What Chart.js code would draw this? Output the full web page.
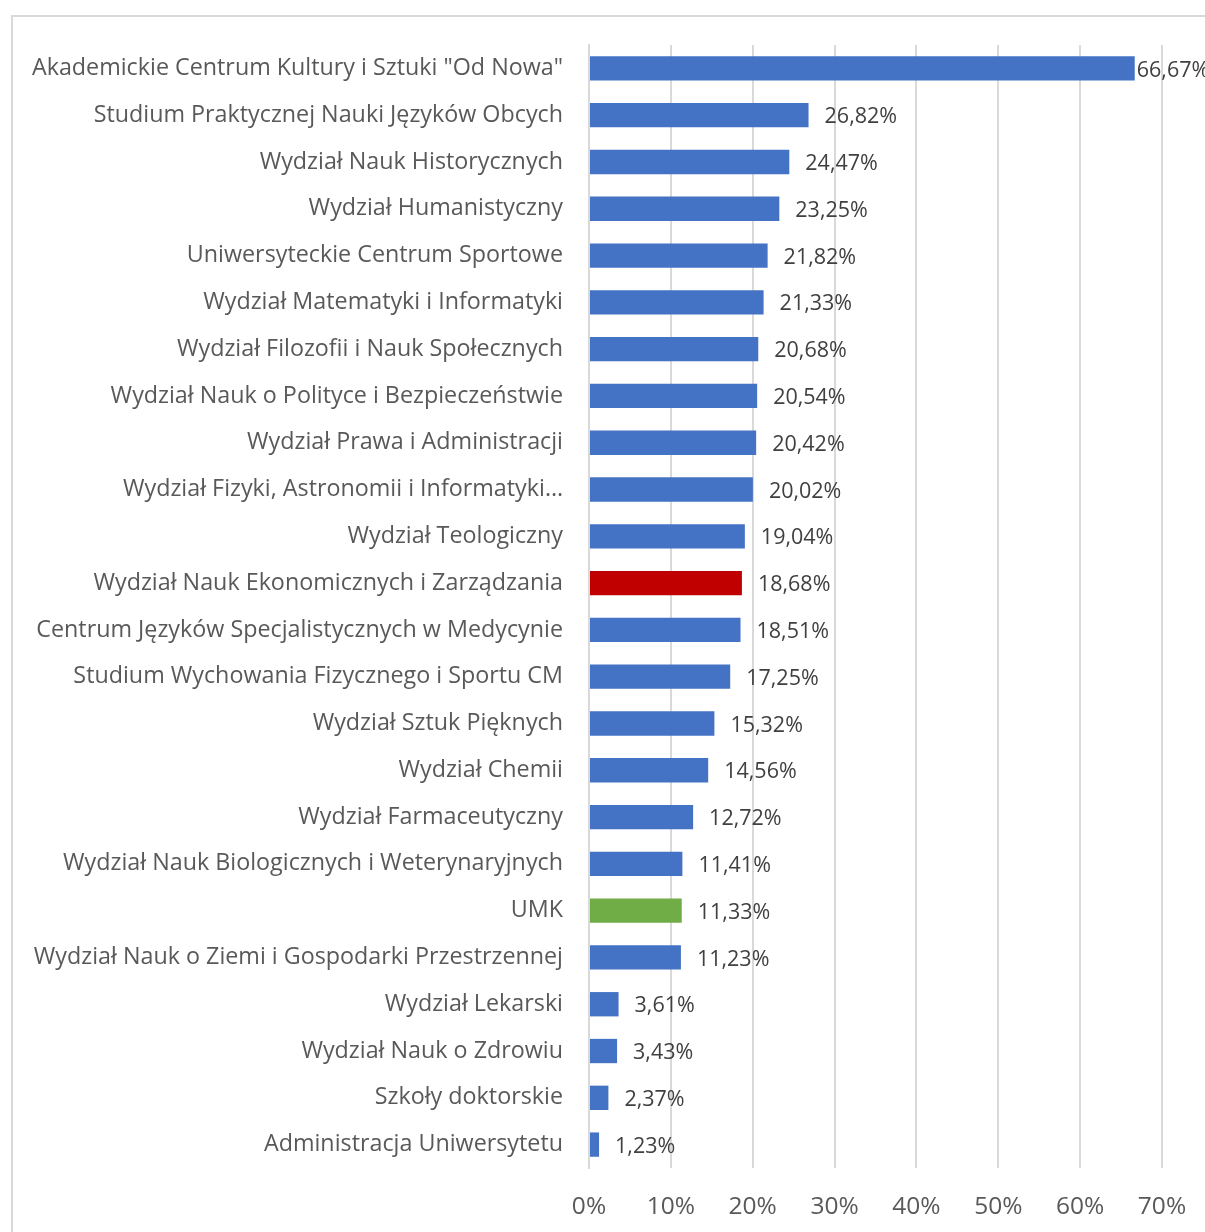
<!DOCTYPE html>
<html>
<head>
<meta charset="utf-8">
<script src="https://cdn.jsdelivr.net/npm/chart.js@4.4.0/dist/chart.umd.min.js"></script>
<style>
  html, body { margin: 0; padding: 0; background: #fff; }
  #wrap { width: 1205px; height: 1232px; position: relative; }
</style>
</head>
<body>
<div id="wrap"><canvas id="chart" width="1205" height="1232"></canvas></div>
<script>
const categories = [
  'Akademickie Centrum Kultury i Sztuki "Od Nowa"',
  'Studium Praktycznej Nauki Języków Obcych',
  'Wydział Nauk Historycznych',
  'Wydział Humanistyczny',
  'Uniwersyteckie Centrum Sportowe',
  'Wydział Matematyki i Informatyki',
  'Wydział Filozofii i Nauk Społecznych',
  'Wydział Nauk o Polityce i Bezpieczeństwie',
  'Wydział Prawa i Administracji',
  'Wydział Fizyki, Astronomii i Informatyki…',
  'Wydział Teologiczny',
  'Wydział Nauk Ekonomicznych i Zarządzania',
  'Centrum Języków Specjalistycznych w Medycynie',
  'Studium Wychowania Fizycznego i Sportu CM',
  'Wydział Sztuk Pięknych',
  'Wydział Chemii',
  'Wydział Farmaceutyczny',
  'Wydział Nauk Biologicznych i Weterynaryjnych',
  'UMK',
  'Wydział Nauk o Ziemi i Gospodarki Przestrzennej',
  'Wydział Lekarski',
  'Wydział Nauk o Zdrowiu',
  'Szkoły doktorskie',
  'Administracja Uniwersytetu'
];

const values = [
  66.67, 26.82, 24.47, 23.25, 21.82, 21.33, 20.68, 20.54, 20.42, 20.02,
  19.04, 18.68, 18.51, 17.25, 15.32, 14.56, 12.72, 11.41, 11.33, 11.23,
  3.61, 3.43, 2.37, 1.23
];

const xTicks = [0, 10, 20, 30, 40, 50, 60, 70];

const BLUE = '#4472C4';
const RED = '#C00000';
const GREEN = '#70AD47';

const barColors = categories.map(c => {
  if (c === 'UMK') return GREEN;
  if (c.startsWith('Wydział Nauk Ekonomicznych')) return RED;
  return BLUE;
});

// frame around the chart, like the Excel chart area border
const framePlugin = {
  id: 'frame',
  beforeDraw(chart) {
    const ctx = chart.ctx;
    ctx.save();
    ctx.strokeStyle = '#d9d9d9';
    ctx.lineWidth = 2;
    ctx.strokeRect(12, 16, 1400, 1400);
    ctx.restore();
  }
};

// value labels right of each bar
const valueLabels = {
  id: 'valueLabels',
  afterDatasetsDraw(chart) {
    const ctx = chart.ctx;
    const meta = chart.getDatasetMeta(0);
    ctx.save();
    ctx.font = '21.5px "Open Sans"';
    ctx.fillStyle = '#404040';
    ctx.textBaseline = 'middle';
    ctx.textAlign = 'left';
    meta.data.forEach((bar, i) => {
      const txt = values[i].toFixed(2).replace('.', ',') + '%';
      const w = ctx.measureText(txt).width;
      let x = bar.x + 16;
      if (x + w > chart.width) x = bar.x + 2;
      ctx.fillText(txt, x, bar.y + 2);
    });
    ctx.restore();
  }
};

new Chart(document.getElementById('chart'), {
  type: 'bar',
  data: {
    labels: categories,
    datasets: [{
      data: values,
      backgroundColor: barColors,
      categoryPercentage: 1,
      barPercentage: 0.52
    }]
  },
  plugins: [framePlugin, valueLabels],
  options: {
    indexAxis: 'y',
    responsive: false,
    animation: false,
    layout: { padding: { top: 45, right: 43, left: 14, bottom: 0 } },
    plugins: {
      legend: { display: false },
      tooltip: { enabled: false }
    },
    scales: {
      x: {
        min: 0,
        max: 70,
        afterBuildTicks(scale) {
          scale.ticks = xTicks.map(v => ({ value: v }));
        },
        afterFit(scale) {
          scale.height = 64;
          // let the 70% label hang over the plot edge like in Excel
          scale.paddingLeft = 0;
          scale.paddingRight = 0;
        },
        grid: { color: '#d9d9d9', lineWidth: 2, drawTicks: false },
        border: { display: false },
        ticks: {
          padding: 24,
          color: '#595959',
          font: { family: 'Open Sans', size: 24.5 },
          callback: v => v + '%'
        }
      },
      y: {
        afterFit(scale) { scale.width = 575; },
        grid: { display: false, drawTicks: false },
        border: { display: true, color: '#d9d9d9', width: 2 },
        ticks: {
          padding: 26,
          color: '#595959',
          autoSkip: false,
          font: { family: 'Open Sans', size: 23.3 }
        }
      }
    }
  }
});
</script>
</body>
</html>
